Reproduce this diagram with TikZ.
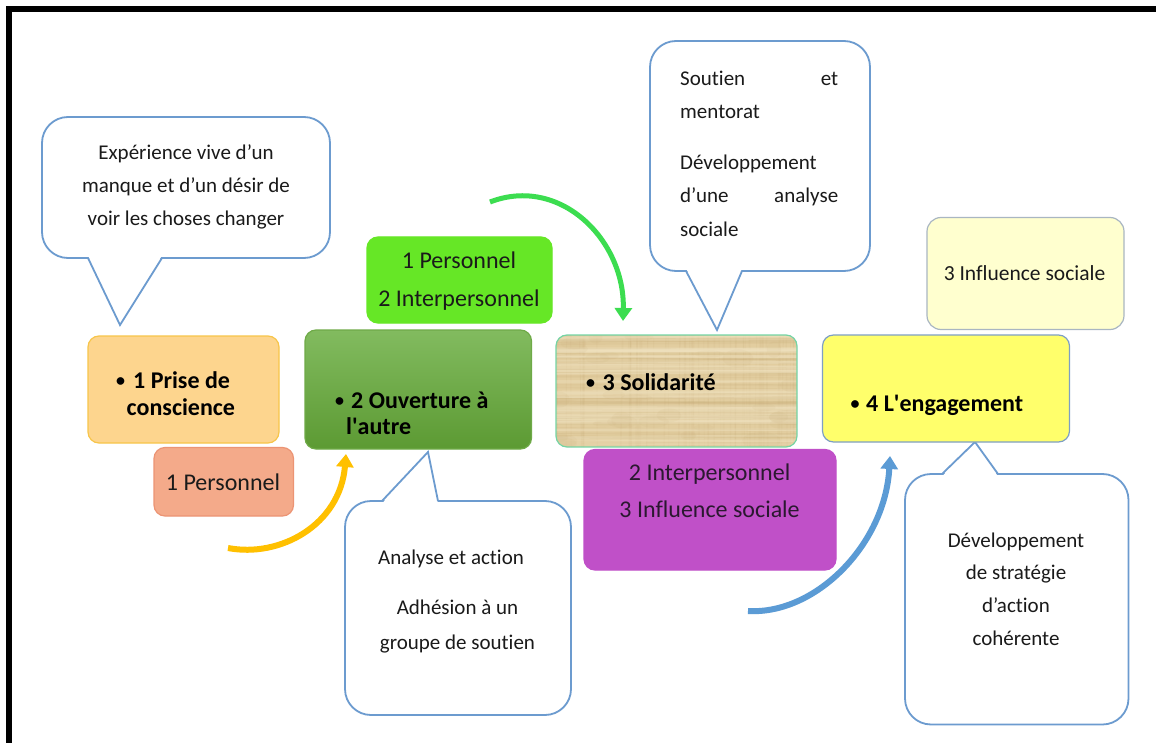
\documentclass[tikz,border=0pt]{standalone}
\usepackage{fontspec}
\setmainfont{Carlito}[Ligatures=NoCommon]
\usetikzlibrary{arrows.meta,fit}

\definecolor{bubbleblue}{HTML}{6C9BCF}
\definecolor{prisefill}{HTML}{FDD58E}
\definecolor{priseline}{HTML}{F7C54A}
\definecolor{persfill}{HTML}{F4AA8A}
\definecolor{persline}{HTML}{EC9474}
\definecolor{ouvtop}{HTML}{82BB5F}
\definecolor{ouvbot}{HTML}{5C9A33}
\definecolor{ouvline}{HTML}{6FAA48}
\definecolor{brightgreen}{HTML}{66E726}
\definecolor{papyrus}{HTML}{E2CD9F}
\definecolor{papdark}{HTML}{C4A872}
\definecolor{paplight}{HTML}{F2E5C4}
\definecolor{solline}{HTML}{74D4A4}
\definecolor{purplefill}{HTML}{C050C8}
\definecolor{purpletext}{HTML}{2B1830}
\definecolor{engfill}{HTML}{FFFF6B}
\definecolor{engline}{HTML}{7E9FC4}
\definecolor{paleyellow}{HTML}{FFFFCF}
\definecolor{paleline}{HTML}{A9B6C2}
\definecolor{arrowyellow}{HTML}{FFC000}
\definecolor{arrowgreen}{HTML}{3CDD50}
\definecolor{arrowblue}{HTML}{5B9BD5}
\definecolor{ink}{HTML}{1A1A1A}

% small bullet used in the stage titles
\newcommand{\stagebullet}[1]{\makebox[#1][l]{\raisebox{1.8pt}{\fontsize{18}{18}\selectfont\textbullet}}}

\begin{document}
\begin{tikzpicture}[x=1pt,y=-1pt,
  bubble/.style={draw=bubbleblue, line width=1.8pt, fill=white, rounded corners=26pt, inner sep=0pt},
  bubbleline/.style={draw=bubbleblue, line width=1.8pt, line join=miter},
  box/.style={rounded corners=11pt, line width=1.2pt, inner sep=0pt},
  ctext/.style={inner sep=0pt, text=ink, font=\fontsize{21}{33}\selectfont},
  tagtext/.style={inner sep=0pt, text=ink, font=\fontsize{24}{38}\selectfont},
  btext/.style={inner sep=0pt, text=black, align=left},
  flow/.style={line width=6pt, -{Triangle[width=17pt,length=13pt]}}
]
\useasboundingbox (0,0) rectangle (1156,743);
\fill[white] (0,0) rectangle (1156,743);

% frame
\fill[black] (6,6) rectangle (1156,12.3);
\fill[black] (6,6) rectangle (11.8,743);

% ---------- speech bubbles ----------
\node[bubble, fit={(42,117) (330,258)}] (c1) {};
\fill[white] (88,255.5) -- (120,325) -- (162,255.5) -- cycle;
\draw[bubbleline] (88,258) -- (120,325) -- (162,258);
\node[ctext, anchor=north, align=center] (c1t) at (186,135.9)
  {\strut Expérience vive d’un\\manque et d’un désir de\\voir les choses changer};

\node[bubble, fit={(650,41) (870,271)}] (c2) {};
\fill[white] (686,268.5) -- (717,330) -- (742,268.5) -- cycle;
\draw[bubbleline] (686,271) -- (717,330) -- (742,271);
\node[ctext, anchor=north west, align=left, text width=158pt,
      font=\fontsize{21}{33.5}\selectfont] (c2t) at (680,61.5)
  {\strut\makebox[158pt][l]{Soutien\hfill et}\\mentorat\\[17pt]Développement\\\makebox[158pt][l]{d’une\hfill analyse}\\sociale};

\node[bubble, fit={(345,501) (571,715)}] (c3) {};
\fill[white] (382,503.5) -- (428,452) -- (438,503.5) -- cycle;
\draw[bubbleline] (382,501) -- (428,452) -- (438,501);
\node[ctext, anchor=north, align=center, font=\fontsize{21}{35}\selectfont] (c3t) at (457.5,539.5)
  {\strut Analyse et action\hspace*{13pt}\\[15pt]Adhésion à un\\groupe de soutien};

\node[bubble, fit={(905,474) (1128.5,724.5)}] (c4) {};
\fill[white] (942,476.5) -- (975,442) -- (998,476.5) -- cycle;
\draw[bubbleline] (942,474) -- (975,442) -- (998,474);
\node[ctext, anchor=north, align=center, font=\fontsize{21}{32.7}\selectfont] (c4t) at (1016,524.1)
  {\strut Développement\\de stratégie\\d’action\\cohérente};

% ---------- stage boxes ----------
\node[box, draw=priseline, fill=prisefill, fit={(88,336) (279,443)}] (b1) {};
\node[btext, anchor=north west, font=\bfseries\fontsize{24}{27}\selectfont] (b1t) at (116,369.1)
  {\strut\stagebullet{17pt}1 Prise de\\\hspace*{10.5pt}conscience};

\node[box, draw=ouvline, top color=ouvtop, bottom color=ouvbot, fit={(305,330) (531.5,449)}] (b2) {};
\node[btext, anchor=north west, font=\bfseries\fontsize{24}{26}\selectfont] (b2t) at (335,389.8)
  {\strut\stagebullet{16pt}2 Ouverture à\\\hspace*{11pt}l\textquotesingle autre};

% papyrus-textured box
\begin{scope}
  \clip[rounded corners=11pt] (556,335) rectangle (797,447);
  \fill[papyrus] (556,335) rectangle (797,447);
  \pgfmathsetseed{11}
  \foreach \i in {1,...,80}{
    \pgfmathsetmacro\yy{335+112*rnd}
    \pgfmathsetmacro\ww{0.5+1.8*rnd}
    \pgfmathsetmacro\dd{6*rnd-3}
    \draw[papdark, opacity=0.12, line width=\ww pt] (556,\yy) -- (797,\yy+\dd);
  }
  \foreach \i in {1,...,60}{
    \pgfmathsetmacro\xx{556+241*rnd}
    \pgfmathsetmacro\ww{0.5+1.5*rnd}
    \draw[papdark, opacity=0.10, line width=\ww pt] (\xx,335) -- (\xx+4*rnd-2,447);
  }
  \foreach \i in {1,...,50}{
    \pgfmathsetmacro\yy{335+112*rnd}
    \pgfmathsetmacro\ww{1+3*rnd}
    \draw[paplight, opacity=0.3, line width=\ww pt] (556,\yy) -- (797,\yy+4*rnd-2);
  }
  \foreach \i in {1,...,30}{
    \pgfmathsetmacro\xx{556+241*rnd}
    \pgfmathsetmacro\yy{335+112*rnd}
    \fill[papdark, opacity=0.08] (\xx,\yy) ellipse ({6+14*rnd} and {3+6*rnd});
  }
\end{scope}
\node[box, draw=solline, fit={(556,335) (797,447)}] (b3) {};
\node[btext, anchor=base west, font=\bfseries\fontsize{24}{27}\selectfont] (b3t) at (586,390)
  {\stagebullet{16.5pt}3 Solidarité};

\node[box, draw=engline, fill=engfill, fit={(822.5,335) (1069.5,442)}] (b4) {};
\node[btext, anchor=base west, font=\bfseries\fontsize{24}{27}\selectfont] (b4t) at (850.5,411)
  {\stagebullet{15.5pt}4 L\textquotesingle engagement};

% ---------- level tags ----------
\node[box, draw=persline, fill=persfill, fit={(154,447.5) (293.5,516)}] (p1) {};
\node[tagtext, anchor=base] (p1t) at (223,490) {1 Personnel};

\node[box, draw=brightgreen, fill=brightgreen, fit={(367,237) (552,323)}] (g1) {};
\node[tagtext, anchor=north, align=center] (g1t) at (459,241.4) {\strut 1 Personnel\\2 Interpersonnel};

\node[box, draw=purplefill, fill=purplefill, fit={(584,449.5) (836,570)}] (pu) {};
\node[tagtext, anchor=north, align=center, text=purpletext, font=\fontsize{24}{37.5}\selectfont] (put) at (709.6,453.75)
  {\strut 2 Interpersonnel\\3 Influence sociale};

\node[box, rounded corners=14pt, draw=paleline, fill=paleyellow, fit={(927,217.5) (1124,329.5)}] (ly) {};
\node[ctext, anchor=base, font=\fontsize{21.5}{30}\selectfont] (lyt) at (1024.5,280) {3 Influence sociale};

% ---------- progression arrows ----------
\coordinate (ya0) at (228,548);
\coordinate (ya1) at (346,454);
\draw[flow, arrowyellow] (ya0) .. controls (280,558) and (340,525) .. (ya1);

\coordinate (ga0) at (490,202);
\coordinate (ga1) at (623,321);
\draw[flow, arrowgreen, line width=5pt] (ga0) .. controls (560,175) and (625,240) .. (ga1);

\coordinate (ba0) at (748,611);
\coordinate (ba1) at (890,456);
\draw[flow, arrowblue] (ba0) .. controls (815,615) and (885,545) .. (ba1);
\end{tikzpicture}
\end{document}
